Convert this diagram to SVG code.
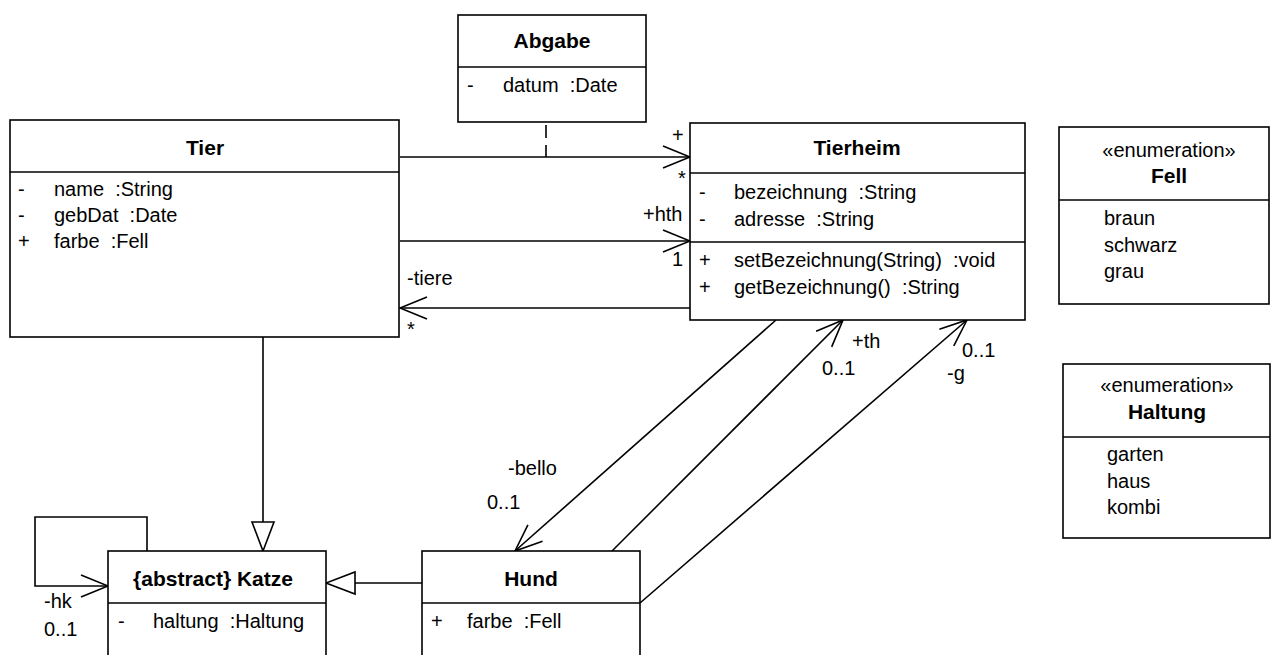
<svg xmlns="http://www.w3.org/2000/svg" width="1274" height="655" viewBox="0 0 1274 655">
<style>
text{font-family:"Liberation Sans",Arial,sans-serif;font-size:20px;fill:#000}
.b{font-weight:bold;font-size:21px}
.m{text-anchor:middle}
.box{fill:#fff;stroke:#000;stroke-width:1.6}
.ln{fill:none;stroke:#000;stroke-width:1.6}
.assoc{marker-end:url(#open)}
.gen{marker-end:url(#tri)}
</style>
<defs>
<marker id="open" viewBox="-29 -13 31 26" refX="0" refY="0" markerWidth="31" markerHeight="26" markerUnits="userSpaceOnUse" orient="auto">
<path d="M-27,-11 L0,0 L-27,11" fill="none" stroke="#000" stroke-width="1.6"/>
</marker>
<marker id="tri" viewBox="-30 -13 32 26" refX="0" refY="0" markerWidth="32" markerHeight="26" markerUnits="userSpaceOnUse" orient="auto">
<path d="M0,0 L-29,-11 L-29,11 Z" fill="#fff" stroke="#000" stroke-width="1.6"/>
</marker>
</defs>
<rect width="1274" height="655" fill="#fff"/>

<g id="connectors">
<line class="ln assoc" x1="400" y1="157" x2="690" y2="157"/>
<line class="ln" x1="546" y1="125" x2="546" y2="157" stroke-dasharray="13,7"/>
<line class="ln assoc" x1="400" y1="241" x2="690" y2="241"/>
<line class="ln assoc" x1="690" y1="308" x2="400" y2="308"/>
<line class="ln gen" x1="263" y1="337" x2="263" y2="551"/>
<path class="ln assoc" d="M147 551 V517 H35 V586 H108"/>
<line class="ln gen" x1="422" y1="583" x2="326" y2="583"/>
<line class="ln assoc" x1="776" y1="320" x2="515" y2="551"/>
<line class="ln assoc" x1="612" y1="551" x2="843" y2="320"/>
<line class="ln assoc" x1="640" y1="603" x2="967" y2="320"/>
<text x="672" y="142">+</text>
<text x="678" y="185">*</text>
<text x="643" y="221">+hth</text>
<text x="672" y="266">1</text>
<text x="407" y="285">-tiere</text>
<text x="407" y="336">*</text>
<text x="852" y="348">+th</text>
<text x="822" y="375">0..1</text>
<text x="962" y="357">0..1</text>
<text x="947" y="380">-g</text>
<text x="508" y="475">-bello</text>
<text x="487" y="509">0..1</text>
<text x="44" y="608">-hk</text>
<text x="44" y="636">0..1</text>
</g>

<g id="abgabe">
<rect class="box" x="458" y="15" width="188" height="107"/>
<line class="ln" x1="458" y1="67" x2="646" y2="67"/>
<text class="b m" x="552" y="48">Abgabe</text>
<text x="467" y="92">-</text>
<text x="503" y="92" xml:space="preserve">datum  :Date</text>
</g>

<g id="tier">
<rect class="box" x="10" y="120" width="389" height="217"/>
<line class="ln" x1="10" y1="172" x2="399" y2="172"/>
<text class="b m" x="205" y="155">Tier</text>
<text x="18" y="196">-</text>
<text x="54" y="196" xml:space="preserve">name  :String</text>
<text x="18" y="222">-</text>
<text x="54" y="222" xml:space="preserve">gebDat  :Date</text>
<text x="18" y="248">+</text>
<text x="54" y="248" xml:space="preserve">farbe  :Fell</text>
</g>

<g id="tierheim">
<rect class="box" x="690" y="123" width="335" height="197"/>
<line class="ln" x1="690" y1="173" x2="1025" y2="173"/>
<line class="ln" x1="690" y1="242" x2="1025" y2="242"/>
<text class="b m" x="857" y="155">Tierheim</text>
<text x="699" y="199">-</text>
<text x="734" y="199" xml:space="preserve">bezeichnung  :String</text>
<text x="699" y="226">-</text>
<text x="734" y="226" xml:space="preserve">adresse  :String</text>
<text x="699" y="267">+</text>
<text x="734" y="267" xml:space="preserve">setBezeichnung(String)  :void</text>
<text x="699" y="294">+</text>
<text x="734" y="294" xml:space="preserve">getBezeichnung()  :String</text>
</g>

<g id="fell">
<rect class="box" x="1059" y="127" width="210" height="177"/>
<line class="ln" x1="1059" y1="200" x2="1269" y2="200"/>
<text class="m" x="1169" y="157">«enumeration»</text>
<text class="b m" x="1169" y="183">Fell</text>
<text x="1104" y="225">braun</text>
<text x="1104" y="252">schwarz</text>
<text x="1104" y="278">grau</text>
</g>

<g id="haltung">
<rect class="box" x="1063" y="364" width="207" height="174"/>
<line class="ln" x1="1063" y1="437" x2="1270" y2="437"/>
<text class="m" x="1167" y="392">«enumeration»</text>
<text class="b m" x="1167" y="419">Haltung</text>
<text x="1107" y="461">garten</text>
<text x="1107" y="488">haus</text>
<text x="1107" y="514">kombi</text>
</g>

<g id="katze">
<rect class="box" x="108" y="551" width="218" height="120"/>
<line class="ln" x1="108" y1="603" x2="326" y2="603"/>
<text class="b m" x="213" y="586">{abstract} Katze</text>
<text x="118" y="628">-</text>
<text x="153" y="628" xml:space="preserve">haltung  :Haltung</text>
</g>

<g id="hund">
<rect class="box" x="422" y="551" width="218" height="120"/>
<line class="ln" x1="422" y1="603" x2="640" y2="603"/>
<text class="b m" x="531" y="586">Hund</text>
<text x="431" y="628">+</text>
<text x="467" y="628" xml:space="preserve">farbe  :Fell</text>
</g>
</svg>
